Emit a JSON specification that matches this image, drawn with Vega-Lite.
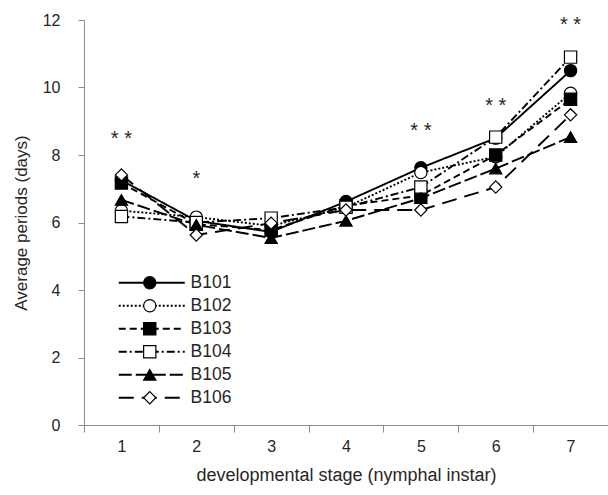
{
  "$schema": "https://vega.github.io/schema/vega-lite/v6.json",
  "width": 524,
  "height": 405,
  "autosize": "none",
  "padding": {"left": 84, "top": 20, "right": 0, "bottom": 70},
  "background": "white",
  "config": {
    "font": "Liberation Sans",
    "view": {"stroke": null},
    "axis": {
      "grid": false,
      "domainColor": "#8c8c8c",
      "tickColor": "#8c8c8c",
      "labelColor": "#262626",
      "titleColor": "#262626",
      "labelFontSize": 16,
      "titleFontWeight": "normal"
    }
  },
  "datasets": {
    "series": [
      {"strain": "B101", "stage": 1, "days": 7.25},
      {"strain": "B101", "stage": 2, "days": 6.05},
      {"strain": "B101", "stage": 3, "days": 5.72},
      {"strain": "B101", "stage": 4, "days": 6.62},
      {"strain": "B101", "stage": 5, "days": 7.62},
      {"strain": "B101", "stage": 6, "days": 8.5},
      {"strain": "B101", "stage": 7, "days": 10.5},
      {"strain": "B102", "stage": 1, "days": 6.35},
      {"strain": "B102", "stage": 2, "days": 6.16},
      {"strain": "B102", "stage": 3, "days": 5.9},
      {"strain": "B102", "stage": 4, "days": 6.45},
      {"strain": "B102", "stage": 5, "days": 7.48},
      {"strain": "B102", "stage": 6, "days": 7.95},
      {"strain": "B102", "stage": 7, "days": 9.83},
      {"strain": "B103", "stage": 1, "days": 7.17},
      {"strain": "B103", "stage": 2, "days": 5.95},
      {"strain": "B103", "stage": 3, "days": 5.78},
      {"strain": "B103", "stage": 4, "days": 6.5},
      {"strain": "B103", "stage": 5, "days": 6.8},
      {"strain": "B103", "stage": 6, "days": 8.0},
      {"strain": "B103", "stage": 7, "days": 9.65},
      {"strain": "B104", "stage": 1, "days": 6.18},
      {"strain": "B104", "stage": 2, "days": 6.0},
      {"strain": "B104", "stage": 3, "days": 6.13},
      {"strain": "B104", "stage": 4, "days": 6.45},
      {"strain": "B104", "stage": 5, "days": 7.05},
      {"strain": "B104", "stage": 6, "days": 8.53},
      {"strain": "B104", "stage": 7, "days": 10.9},
      {"strain": "B105", "stage": 1, "days": 6.67},
      {"strain": "B105", "stage": 2, "days": 5.93},
      {"strain": "B105", "stage": 3, "days": 5.54},
      {"strain": "B105", "stage": 4, "days": 6.05},
      {"strain": "B105", "stage": 5, "days": 6.72},
      {"strain": "B105", "stage": 6, "days": 7.6},
      {"strain": "B105", "stage": 7, "days": 8.53},
      {"strain": "B106", "stage": 1, "days": 7.41},
      {"strain": "B106", "stage": 2, "days": 5.63},
      {"strain": "B106", "stage": 3, "days": 5.98},
      {"strain": "B106", "stage": 4, "days": 6.37},
      {"strain": "B106", "stage": 5, "days": 6.37},
      {"strain": "B106", "stage": 6, "days": 7.05},
      {"strain": "B106", "stage": 7, "days": 9.19}
    ],
    "stars": [
      {"stage": 1, "days": 8.47, "label": "* *"},
      {"stage": 2, "days": 7.3, "label": "*"},
      {"stage": 5, "days": 8.71, "label": "* *"},
      {"stage": 6, "days": 9.45, "label": "* *"},
      {"stage": 7, "days": 11.85, "label": "* *"}
    ]
  },
  "layer": [
    {
      "data": {"name": "series"},
      "mark": {"type": "line", "stroke": "black", "strokeWidth": 1.9},
      "encoding": {
        "x": {
          "field": "stage", "type": "ordinal",
          "scale": {"type": "band", "paddingInner": 0, "paddingOuter": 0},
          "axis": {"title": "developmental stage (nymphal instar)", "titleFontSize": 18, "labelAngle": 0, "tickBand": "extent", "tickSize": 7, "labelPadding": 6, "titlePadding": 12}
        },
        "y": {
          "field": "days", "type": "quantitative",
          "scale": {"domain": [0, 12], "nice": false},
          "axis": {"title": "Average periods (days)", "titleFontSize": 17, "values": [0, 2, 4, 6, 8, 10, 12], "tickSize": 6, "labelPadding": 18, "titlePadding": 12}
        },
        "strokeDash": {
          "field": "strain", "type": "nominal",
          "scale": {"range": [[1, 0], [2, 2], [7, 4], [8, 3, 2, 3], [13, 4], [15, 8]]},
          "legend": {
            "title": null, "orient": "none", "legendX": 59, "legendY": 254,
            "symbolType": "M -6.6 0 L 6.6 0", "symbolSize": 100, "symbolStrokeWidth": 1.9, "symbolStrokeColor": "black",
            "labelFontSize": 17.5, "labelColor": "#262626", "labelOffset": 30, "rowPadding": 4
          }
        }
      }
    },
    {
      "data": {"name": "series"},
      "mark": {"type": "point", "filled": true, "stroke": "black", "strokeWidth": 1.2, "size": 150, "opacity": 1},
      "encoding": {
        "x": {"field": "stage", "type": "ordinal"},
        "y": {"field": "days", "type": "quantitative"},
        "shape": {
          "field": "strain", "type": "nominal",
          "scale": {"domain": ["B101", "B102", "B103", "B104", "B105", "B106"], "range": ["circle", "circle", "square", "square", "triangle-up", "diamond"]},
          "legend": {
            "title": null, "orient": "none", "legendX": 57, "legendY": 254,
            "symbolSize": 150, "symbolStrokeWidth": 1.2,
            "labelFontSize": 17.5, "labelExpr": "''", "rowPadding": 4,
            "encoding": {"symbols": {"stroke": {"value": "black"}, "strokeWidth": {"value": 1.2}, "strokeOpacity": {"value": 1}}}
          }
        },
        "fill": {
          "field": "strain", "type": "nominal",
          "scale": {"domain": ["B101", "B102", "B103", "B104", "B105", "B106"], "range": ["black", "white", "black", "white", "black", "white"]}
        }
      }
    },
    {
      "data": {"name": "stars"},
      "mark": {"type": "text", "fontSize": 20, "color": "#262626", "baseline": "middle", "align": "center"},
      "encoding": {
        "x": {"field": "stage", "type": "ordinal"},
        "y": {"field": "days", "type": "quantitative"},
        "text": {"field": "label"}
      }
    }
  ]
}
